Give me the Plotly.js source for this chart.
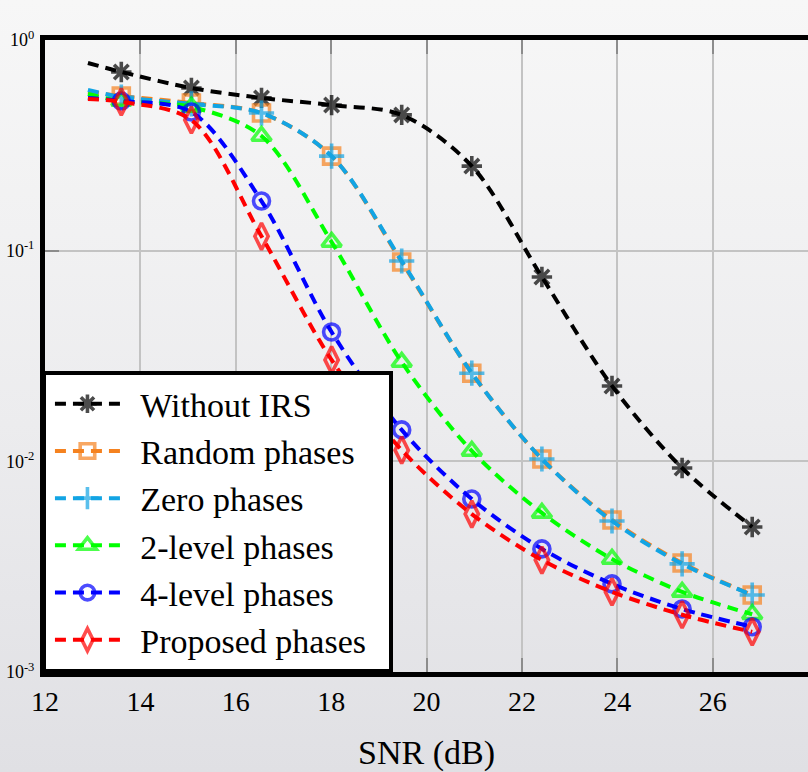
<!DOCTYPE html>
<html><head><meta charset="utf-8">
<script src="https://cdn.plot.ly/plotly-3.0.1.min.js"></script>
<style>
html,body{margin:0;padding:0;width:808px;height:772px;overflow:hidden;background:linear-gradient(180deg,#f7f7f7 0%,#ececee 55%,#e0e0e4 100%);}
#chart{width:808px;height:772px;}
</style>
</head><body><div id="chart"></div>
<script>
// ---- data ----
const snrLineStart = 12.9;
const snrMarkers = [13.6, 15.07, 16.54, 18.01, 19.48, 20.95, 22.42, 23.89, 25.36, 26.83];

const seriesNames = ['Without IRS', 'Random phases', 'Zero phases', '2-level phases', '4-level phases', 'Proposed phases'];

// first value = start of the curve (no marker), then values at the markers
const berWithoutIRS = [0.778, 0.705, 0.592, 0.531, 0.491, 0.441, 0.252, 0.0750, 0.0228, 0.0093, 0.00488];
const berRandom     = [0.567, 0.542, 0.502, 0.450, 0.281, 0.0884, 0.0262, 0.01026, 0.00527, 0.00329, 0.00232];
const berZero       = [0.579, 0.536, 0.497, 0.450, 0.281, 0.0893, 0.0262, 0.01026, 0.00521, 0.00326, 0.00232];
const ber2Level     = [0.554, 0.513, 0.481, 0.350, 0.110, 0.0296, 0.0112, 0.00569, 0.00344, 0.00240, 0.00188];
const ber4Level     = [0.531, 0.513, 0.455, 0.172, 0.0411, 0.0141, 0.00662, 0.00384, 0.00262, 0.00199, 0.00164];
const berProposed   = [0.525, 0.508, 0.417, 0.117, 0.0303, 0.0113, 0.00562, 0.00340, 0.00240, 0.00187, 0.00155];

const xTickVals = [12, 14, 16, 18, 20, 22, 24, 26, 28];
const yTickVals = [1, 0.1, 0.01, 0.001];
const yTickText = ['10<sup>0</sup>', '10<sup>-1</sup>', '10<sup>-2</sup>', '10<sup>-3</sup>'];

// ---- styles ----
const allBer = [berWithoutIRS, berRandom, berZero, ber2Level, ber4Level, berProposed];
const colors = ['#000000', '#f5821f', '#12a4e4', '#00ff00', '#0000ff', '#ff0000'];
const symbols = ['asterisk-open', 'square-open', 'cross-thin-open', 'triangle-up-open', 'circle-open', 'diamond-tall-open'];
const msizes = [17, 16, 18, 17, 16, 19];
const serif = 'Liberation Serif, Times New Roman, serif';
const namePadL = '\u00a0\u2009';
const namePadR = '\u2002';

const xs = [snrLineStart].concat(snrMarkers);
const traces = allBer.map((ys, i) => ({
  type: 'scatter',
  mode: 'lines+markers',
  name: namePadL + seriesNames[i] + namePadR,
  x: xs,
  y: ys,
  line: {color: colors[i], width: 4, dash: '11px,7px', shape: 'spline', smoothing: 0.9},
  marker: {
    symbol: symbols[i],
    size: xs.map((_, k) => k === 0 ? 0 : msizes[i]),
    color: colors[i],
    line: {color: colors[i], width: 3.6}
  }
}));

const layout = {
  width: 808, height: 772,
  margin: {l: 45, r: 0, t: 40, b: 100},
  paper_bgcolor: 'rgba(0,0,0,0)',
  plot_bgcolor: 'rgba(0,0,0,0)',
  font: {family: serif, color: '#000', size: 28},
  showlegend: true,
  legend: {
    x: -0.004, y: 0.476, xanchor: 'left', yanchor: 'top',
    bgcolor: '#ffffff', bordercolor: '#000000', borderwidth: 4,
    font: {family: serif, size: 34, color: '#000'},
    itemsizing: 'trace', itemwidth: 65, indentation: 4,
    tracegroupgap: 0
  },
  xaxis: {
    range: [12, 28], tickvals: xTickVals,
    showgrid: true, gridcolor: '#c3c3c3', gridwidth: 2,
    showline: true, linecolor: '#000', linewidth: 5, mirror: 'ticks',
    ticks: 'inside', ticklen: 14, tickwidth: 2, tickcolor: '#8c8c8c',
    zeroline: false,
    tickfont: {family: serif, size: 28},
    title: {text: 'SNR (dB)', font: {family: serif, size: 34}, standoff: 28}
  },
  yaxis: {
    type: 'log', range: [-3, 0], tickvals: yTickVals, ticktext: yTickText,
    showgrid: true, gridcolor: '#c3c3c3', gridwidth: 2,
    showline: true, linecolor: '#000', linewidth: 5, mirror: false,
    ticks: 'inside', ticklen: 14, tickwidth: 2, tickcolor: '#8c8c8c',
    zeroline: false, ticklabelstandoff: 2,
    tickfont: {family: serif, size: 18}
  }
};

Plotly.newPlot('chart', traces, layout, {displayModeBar: false, staticPlot: true});
</script>
</body></html>
